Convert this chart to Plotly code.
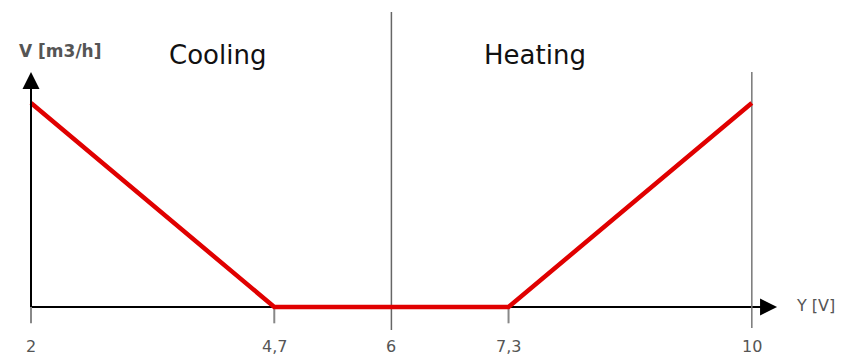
import plotly.graph_objects as go

# Data
y_volt = [2, 4.7, 7.3, 10]
v_flow = [1, 0, 0, 1]
tick_vals = [2, 4.7, 6, 7.3, 10]
tick_text = ["2", "4,7", "6", "7,3", "10"]
zone_labels = ["Cooling", "Heating"]
zone_centers = [4.075, 7.594]

fig = go.Figure()

# axis lines
fig.add_shape(type="line", x0=2, x1=10.12, y0=0, y1=0, line=dict(color="black", width=2), layer="below")
fig.add_shape(type="line", x0=2, x1=2, y0=0, y1=1.08, line=dict(color="black", width=2), layer="below")

# arrow heads
fig.add_annotation(x=10.28, y=0, ax=10.0, ay=0, xref="x", yref="y", axref="x", ayref="y",
                   showarrow=True, arrowhead=2, arrowsize=1.7, arrowwidth=2, arrowcolor="black", text="")
fig.add_annotation(x=2, y=1.152, ax=2, ay=0.95, xref="x", yref="y", axref="x", ayref="y",
                   showarrow=True, arrowhead=2, arrowsize=1.7, arrowwidth=2, arrowcolor="black", text="")

# vertical divider lines
fig.add_shape(type="line", x0=6, x1=6, y0=-0.113, y1=1.446, line=dict(color="#666666", width=1.5), layer="below")
fig.add_shape(type="line", x0=10, x1=10, y0=-0.103, y1=1.152, line=dict(color="#777777", width=1.5), layer="below")

# tick marks
for tv in tick_vals:
    if tv in (6, 10):
        continue
    fig.add_shape(type="line", x0=tv, x1=tv, y0=-0.08, y1=0, line=dict(color="#888888", width=2), layer="below")

# tick labels
for tv, tt in zip(tick_vals, tick_text):
    fig.add_annotation(x=tv, y=-0.196, xref="x", yref="y", text=tt, showarrow=False,
                       font=dict(family="DejaVu Sans", size=16, color="#555555"))

# red characteristic line
fig.add_trace(go.Scatter(x=y_volt, y=v_flow, mode="lines",
                         line=dict(color="#e00000", width=4.5), hoverinfo="skip"))

# zone labels
for lab, cx in zip(zone_labels, zone_centers):
    fig.add_annotation(x=cx, y=1.235, xref="x", yref="y", text=lab, showarrow=False,
                       font=dict(family="DejaVu Sans", size=26, color="#111111"))

# axis titles
fig.add_annotation(x=2.32, y=1.255, xref="x", yref="y", text="<b>V [m3/h]</b>", showarrow=False,
                   font=dict(family="DejaVu Sans", size=17, color="#555555"))
fig.add_annotation(x=10.71, y=0.005, xref="x", yref="y", text="Y [V]", showarrow=False,
                   font=dict(family="DejaVu Sans", size=16, color="#555555"))

fig.update_layout(
    width=844, height=358,
    margin=dict(l=0, r=0, t=0, b=0),
    paper_bgcolor="white", plot_bgcolor="white",
    showlegend=False,
    xaxis=dict(range=[1.656, 11.023], visible=False, fixedrange=True),
    yaxis=dict(range=[-0.25, 1.505], visible=False, fixedrange=True),
)

fig.write_html("out.html", config={"displayModeBar": False},
               post_script="document.body.style.margin='0';")
